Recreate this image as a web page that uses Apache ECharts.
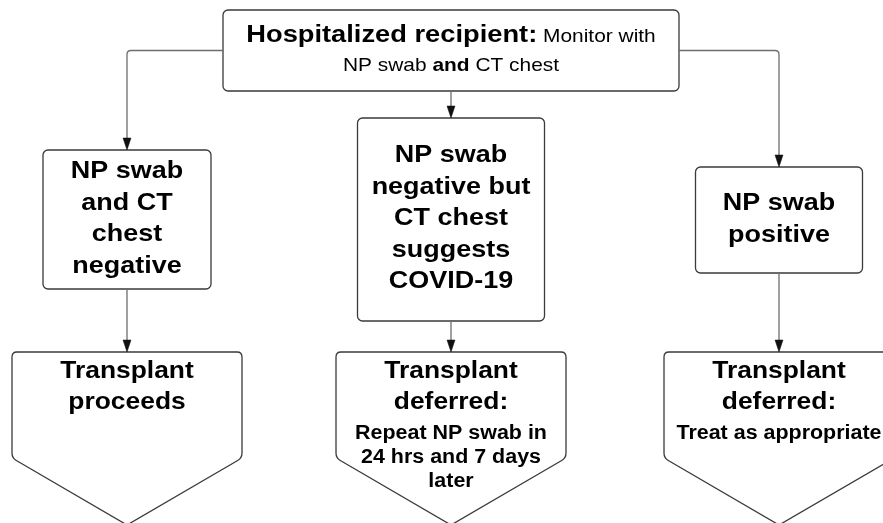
<!DOCTYPE html>
<html><head><meta charset="utf-8">
<script src="https://cdn.jsdelivr.net/npm/echarts@6/dist/echarts.min.js"></script>
<style>html,body{margin:0;padding:0;background:#fff}#c{width:883px;height:523px}</style>
</head><body><div id="c"></div>
<script>
// ---- diagram content ----
const nodeTitle = [
  '{hb|Hospitalized recipient:}{hr1| Monitor with}\n{hr|NP swab }{hrb|and}{hr| CT chest}',
  'NP swab\nand CT\nchest\nnegative',
  'NP swab\nnegative but\nCT chest\nsuggests\nCOVID-19',
  'NP swab\npositive',
  'Transplant\nproceeds',
  'Transplant\ndeferred:',
  'Transplant\ndeferred:'
];
const nodeSub = ['', '', '', '', '', 'Repeat NP swab in\n24 hrs and 7 days\nlater', 'Treat as appropriate'];
const nodeShape = ['box', 'box', 'box', 'box', 'offpage', 'offpage', 'offpage'];
// node layout in diagram units
const nodeCenterX = [451, 127, 451, 779, 127, 451, 779];
const nodeTopY    = [10, 150, 118, 167, 352, 352, 352];
const nodeBottomY = [91, 289, 321, 273, 458, 458, 458];
const nodeHalfW   = [228, 84, 93.5, 83.5, 115, 115, 115];
const offpageTipY = 525;
// connectors
const edgeFrom = [0, 0, 0, 1, 2, 3];
const edgeTo   = [1, 2, 3, 4, 5, 6];

// ---- styling ----
const FONT = '"Liberation Sans", Arial, Helvetica, sans-serif';
const STRETCH = 1.1;
const TXT = '#000000';
const BORDER = '#3a3a3a';
const LINK = '#6e6e6e';

const chart = echarts.init(document.getElementById('c'), null, {renderer: 'canvas'});

function P(x, y, api) { return api.coord([x, y]); }

function renderNode(params, api) {
  const i = params.dataIndex;
  const cx = nodeCenterX[i], top = nodeTopY[i], bot = nodeBottomY[i], hw = nodeHalfW[i];
  const children = [];
  if (nodeShape[i] === 'box') {
    const a = P(cx - hw, top, api), b = P(cx + hw, bot, api);
    children.push({type: 'rect', shape: {x: a[0], y: a[1], width: b[0] - a[0], height: b[1] - a[1], r: 5},
      style: {fill: '#fff', stroke: BORDER, lineWidth: 1.3}});
    const c = P(cx, (top + bot) / 2, api);
    if (i === 0) {
      children.push({type: 'text', x: c[0], y: c[1], scaleX: STRETCH,
        style: {text: nodeTitle[i], align: 'center', verticalAlign: 'middle', fill: TXT,
          rich: {
            hb: {fontSize: 24.8, fontWeight: 'bold', fontFamily: FONT, fill: TXT, lineHeight: 30.5},
            hr1: {fontSize: 19, fontFamily: FONT, fill: TXT, lineHeight: 30.5, padding: [4, 0, 0, 0]},
            hr: {fontSize: 19, fontFamily: FONT, fill: TXT, lineHeight: 30.5},
            hrb: {fontSize: 19, fontWeight: 'bold', fontFamily: FONT, fill: TXT, lineHeight: 30.5}
          }}});
    } else {
      children.push({type: 'text', x: c[0], y: c[1] - 1, scaleX: STRETCH,
        style: {text: nodeTitle[i], align: 'center', verticalAlign: 'middle', fill: TXT,
          fontSize: 24.5, fontWeight: 'bold', fontFamily: FONT, lineHeight: 31.5}});
    }
  } else {
    const r = 5;
    const x0 = cx - hw, x1 = cx + hw, sb = bot, tip = offpageTipY;
    const dx = hw, dy = tip - sb, len = Math.sqrt(dx * dx + dy * dy);
    const ux = dx / len, uy = dy / len;
    const pts = {
      a: P(x0, top + r, api), b: P(x0, top, api), c: P(x0 + r, top, api),
      d: P(x1 - r, top, api), e: P(x1, top, api), f: P(x1, top + r, api),
      g: P(x1, sb - r, api), h: P(x1, sb, api), k: P(x1 - r * ux, sb + r * uy, api),
      t: P(cx, tip, api),
      m: P(x0 + r * ux, sb + r * uy, api), n: P(x0, sb, api), o: P(x0, sb - r, api)
    };
    const s = (p) => p[0].toFixed(2) + ' ' + p[1].toFixed(2);
    const d = 'M ' + s(pts.a) + ' Q ' + s(pts.b) + ' ' + s(pts.c) + ' L ' + s(pts.d) +
      ' Q ' + s(pts.e) + ' ' + s(pts.f) + ' L ' + s(pts.g) + ' Q ' + s(pts.h) + ' ' + s(pts.k) +
      ' L ' + s(pts.t) + ' L ' + s(pts.m) + ' Q ' + s(pts.n) + ' ' + s(pts.o) + ' Z';
    children.push({type: 'path', shape: {pathData: d}, style: {fill: '#fff', stroke: BORDER, lineWidth: 1.3}});
    const tt = P(cx, top + 3.25, api);
    children.push({type: 'text', x: tt[0], y: tt[1], scaleX: STRETCH,
      style: {text: nodeTitle[i], align: 'center', verticalAlign: 'top', fill: TXT,
        fontSize: 24, fontWeight: 'bold', fontFamily: FONT, lineHeight: 31.5}});
    if (nodeSub[i]) {
      const st = P(cx, top + 69.1, api);
      children.push({type: 'text', x: st[0], y: st[1], scaleX: STRETCH,
        style: {text: nodeSub[i], align: 'center', verticalAlign: 'top', fill: TXT,
          fontSize: 19.5, fontWeight: 'bold', fontFamily: FONT, lineHeight: 24.2}});
    }
  }
  return {type: 'group', children};
}

function renderEdge(params, api) {
  const k = params.dataIndex;
  const s = edgeFrom[k], t = edgeTo[k];
  const tx = nodeCenterX[t], ty = nodeTopY[t];
  const tipPx = P(tx, ty, api);
  let d;
  const f = (p) => p[0].toFixed(2) + ' ' + p[1].toFixed(2);
  if (Math.abs(nodeCenterX[s] - tx) < 1) {
    const a = P(tx, nodeBottomY[s], api);
    d = 'M ' + f(a) + ' L ' + f([tipPx[0], tipPx[1] - 6]);
  } else {
    const dir = tx > nodeCenterX[s] ? 1 : -1;
    const sy = (nodeTopY[s] + nodeBottomY[s]) / 2;
    const a = P(nodeCenterX[s] + dir * nodeHalfW[s], sy, api);
    const corner = P(tx, sy, api);
    const r = 4;
    d = 'M ' + f(a) + ' L ' + f([corner[0] - dir * r, corner[1]]) +
      ' Q ' + f(corner) + ' ' + f([corner[0], corner[1] + r]) +
      ' L ' + f([tipPx[0], tipPx[1] - 6]);
  }
  const head = [[tipPx[0], tipPx[1]], [tipPx[0] - 4, tipPx[1] - 12], [tipPx[0] + 4, tipPx[1] - 12]];
  return {type: 'group', children: [
    {type: 'path', shape: {pathData: d}, style: {fill: 'none', stroke: LINK, lineWidth: 1.3}},
    {type: 'polygon', shape: {points: head}, style: {fill: '#111', stroke: '#111', lineWidth: 0.5}}
  ]};
}

chart.setOption({
  animation: false,
  backgroundColor: '#ffffff',
  grid: {left: 0, right: 0, top: 0, bottom: 0},
  xAxis: {type: 'value', min: 0, max: 883, show: false},
  yAxis: {type: 'value', min: 0, max: 523, inverse: true, show: false},
  series: [
    {
      type: 'custom', coordinateSystem: 'cartesian2d', clip: false,
      renderItem: renderNode,
      encode: {x: 0, y: 1},
      data: nodeCenterX.map((x, i) => [x, nodeTopY[i]]),
      z: 2
    },
    {
      type: 'custom', coordinateSystem: 'cartesian2d', clip: false,
      renderItem: renderEdge,
      encode: {x: 0, y: 1},
      data: edgeTo.map((t) => [nodeCenterX[t], nodeTopY[t]]),
      z: 3
    }
  ]
});
</script>
</body></html>
